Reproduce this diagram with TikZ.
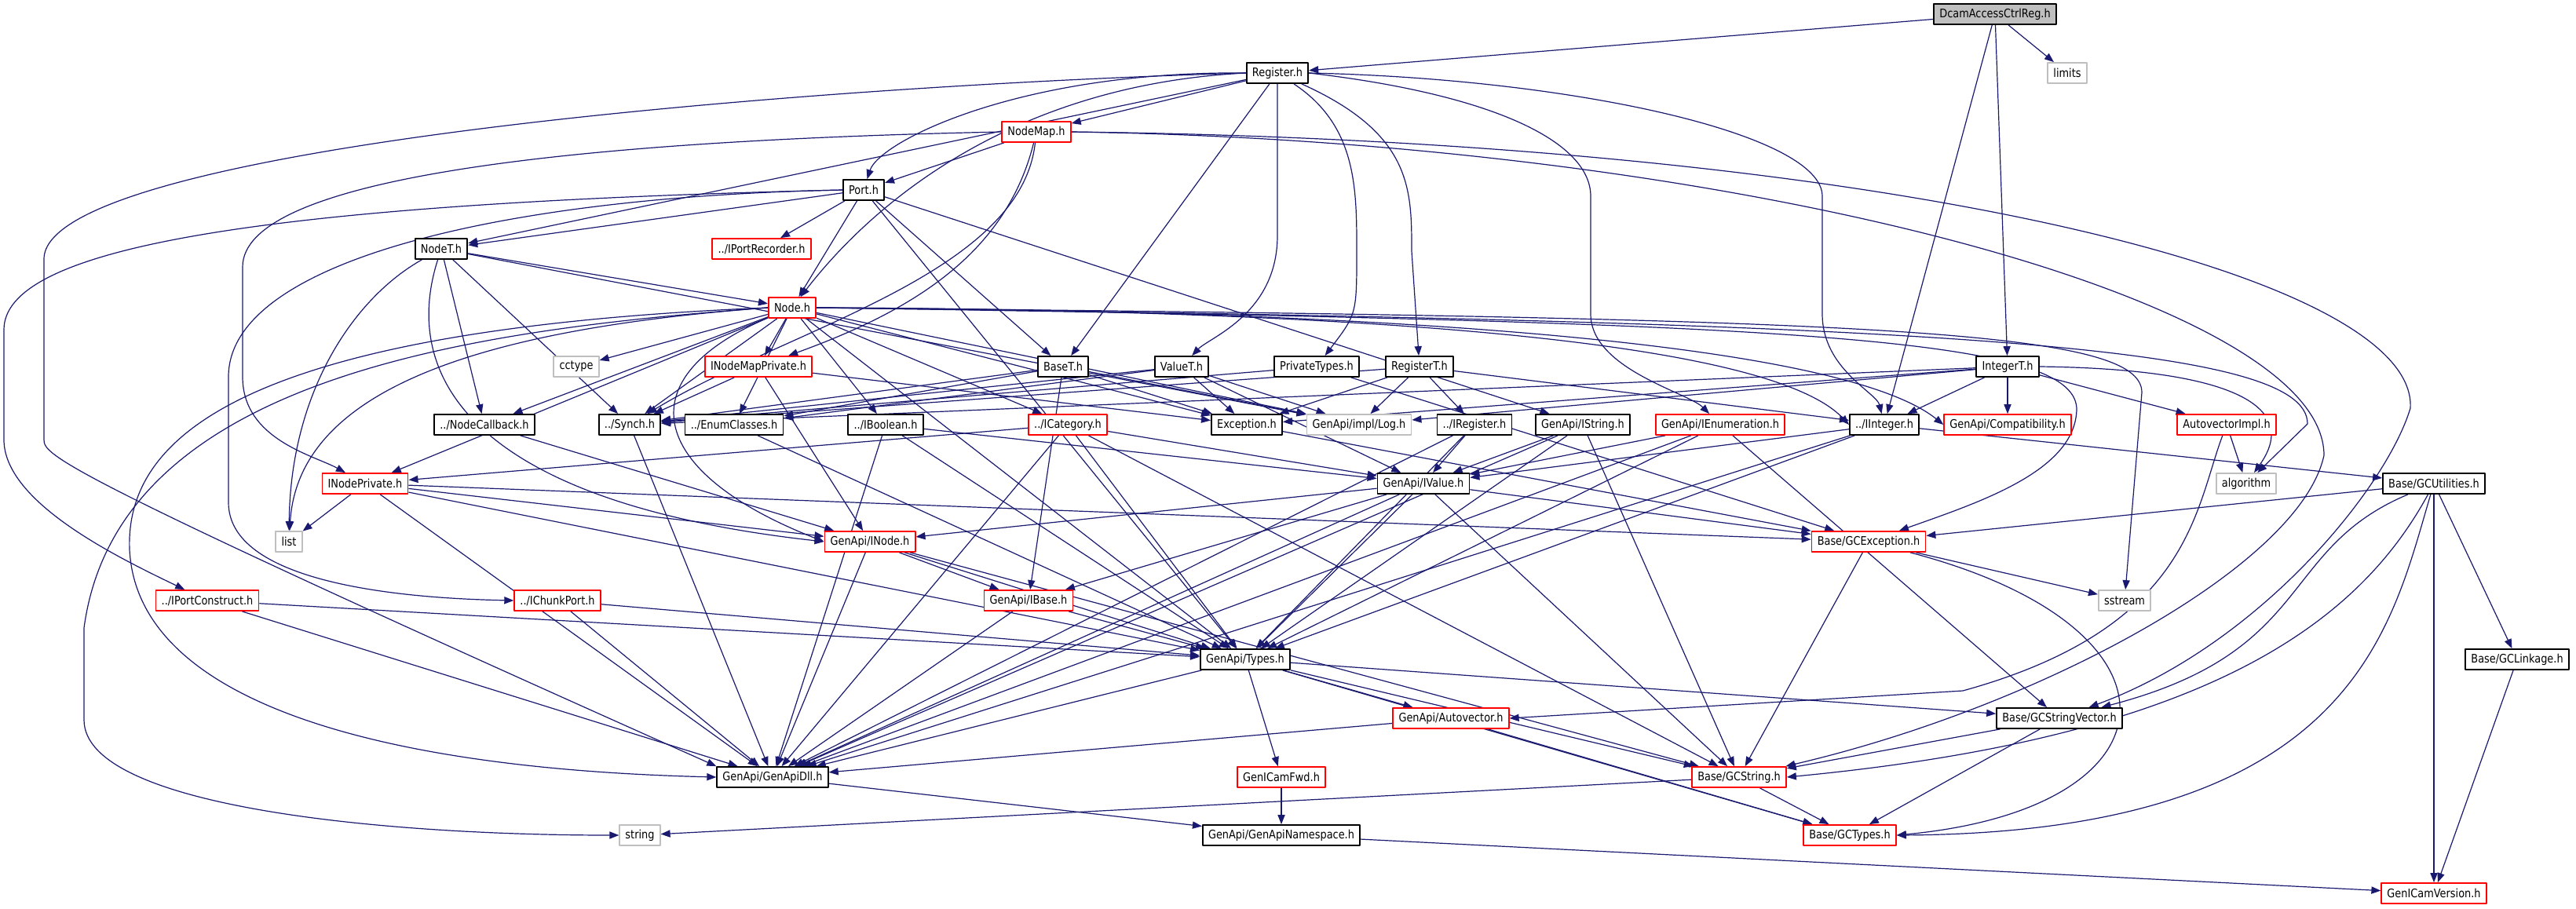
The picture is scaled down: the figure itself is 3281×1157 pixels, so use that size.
\documentclass[tikz,border=0pt]{standalone}
\usepackage{fontspec}
\setmainfont{DejaVu Sans}[FakeStretch=0.86]
\usetikzlibrary{arrows.meta}
\definecolor{edgeblue}{HTML}{191970}
\definecolor{sysgray}{HTML}{BFBFBF}
\pgfdeclarelayer{bg}
\pgfsetlayers{bg,main}

\begin{document}
\begin{tikzpicture}[line cap=round,line join=round,x=0.5pt,y=-0.5pt,
	file/.style={draw=black,fill=white,line width=0.9pt,minimum height=13pt,inner xsep=3.6pt,inner ysep=0pt,font=\fontsize{7.5}{8}\selectfont},
	trunc/.style={file,draw=red},
	sys/.style={file,draw=sysgray},
	root/.style={file,fill=sysgray},
	dep/.style={draw=edgeblue,line width=0.6pt,-{Triangle[length=6pt,width=4.6pt]}}]
		\useasboundingbox (0,0) rectangle (3281,1157);
		\node[root]  (dcam)    at (2541,18)   {DcamAccessCtrlReg.h};
		\node[file]  (reg)     at (1627,93)   {Register.h};
		\node[sys]   (limits)  at (2633,93)   {limits};
		\node[trunc] (nmap)    at (1320,168)  {NodeMap.h};
		\node[file]  (port)    at (1100,242)  {Port.h};
		\node[file]  (nodet)   at (562,317)   {NodeT.h};
		\node[trunc] (iprec)   at (970,317)   {../IPortRecorder.h};
		\node[trunc] (node)    at (1009,392)  {Node.h};
		\node[sys]   (cctype)  at (734,467)   {cctype};
		\node[trunc] (inmp)    at (966,467)   {INodeMapPrivate.h};
		\node[file]  (baset)   at (1354,467)  {BaseT.h};
		\node[file]  (valuet)  at (1505,467)  {ValueT.h};
		\node[file]  (ptypes)  at (1677,467)  {PrivateTypes.h};
		\node[file]  (regt)    at (1808,467)  {RegisterT.h};
		\node[file]  (intt)    at (2557,467)  {IntegerT.h};
		\node[file]  (ncb)     at (617,541)   {../NodeCallback.h};
		\node[file]  (synch)   at (802,541)   {../Synch.h};
		\node[file]  (enumc)   at (935,541)   {../EnumClasses.h};
		\node[file]  (ibool)   at (1128,541)  {../IBoolean.h};
		\node[trunc] (icat)    at (1360,541)  {../ICategory.h};
		\node[file]  (excp)    at (1588,541)  {Exception.h};
		\node[sys]   (log)     at (1731,541)  {GenApi/impl/Log.h};
		\node[file]  (ireg)    at (1878,541)  {../IRegister.h};
		\node[file]  (istr)    at (2016,541)  {GenApi/IString.h};
		\node[trunc] (ienum)   at (2191,541)  {GenApi/IEnumeration.h};
		\node[file]  (iint)    at (2400,541)  {../IInteger.h};
		\node[trunc] (compat)  at (2557,541)  {GenApi/Compatibility.h};
		\node[trunc] (avimpl)  at (2836,541)  {AutovectorImpl.h};
		\node[trunc] (inp)     at (465,616)   {INodePrivate.h};
		\node[file]  (ivalue)  at (1813,616)  {GenApi/IValue.h};
		\node[sys]   (algo)    at (2861,616)  {algorithm};
		\node[file]  (gcu)     at (3100,616)  {Base/GCUtilities.h};
		\node[sys]   (list)    at (368,690)   {list};
		\node[trunc] (inode)   at (1108,690)  {GenApi/INode.h};
		\node[trunc] (gcex)    at (2380,690)  {Base/GCException.h};
		\node[trunc] (ipc)     at (264,765)   {../IPortConstruct.h};
		\node[trunc] (icp)     at (710,765)   {../IChunkPort.h};
		\node[trunc] (ibase)   at (1310,765)  {GenApi/IBase.h};
		\node[sys]   (sstream) at (2706,765)  {sstream};
		\node[file]  (types)   at (1586,840)  {GenApi/Types.h};
		\node[file]  (gclink)  at (3206,840)  {Base/GCLinkage.h};
		\node[trunc] (avec)    at (1848,915)  {GenApi/Autovector.h};
		\node[file]  (gcsv)    at (2623,915)  {Base/GCStringVector.h};
		\node[file]  (dll)     at (984,990)   {GenApi/GenApiDll.h};
		\node[trunc] (fwd)     at (1632,990)  {GenICamFwd.h};
		\node[trunc] (gcstr)   at (2215,990)  {Base/GCString.h};
		\node[sys]   (string)  at (815,1064)  {string};
		\node[file]  (nspace)  at (1632,1064) {GenApi/GenApiNamespace.h};
		\node[trunc] (gctypes) at (2356,1064) {Base/GCTypes.h};
		\node[trunc] (gcver)   at (3100,1138) {GenICamVersion.h};
		\begin{pgfonlayer}{bg}
			\foreach \a/\b in {dcam/reg,dcam/limits,dcam/iint,dcam/intt,
				reg/nmap,reg/nodet,reg/baset,nmap/port,
				port/nodet,port/iprec,port/node,port/baset,port/types,port/istr,
				nodet/node,nodet/ncb,nodet/synch,nodet/log,
				node/cctype,node/inmp,node/ncb,node/synch,node/enumc,node/ibool,node/icat,node/excp,node/log,node/inp,node/types,
				inmp/synch,inmp/inode,inmp/excp,ncb/inode,synch/dll,enumc/types,
				ibool/ivalue,ibool/types,ibool/dll,
				icat/ivalue,icat/types,icat/dll,icat/gcstr,icat/inp,
				baset/excp,baset/log,baset/ibase,baset/synch,baset/enumc,
				valuet/excp,valuet/log,valuet/ivalue,valuet/synch,valuet/enumc,
				ptypes/synch,ptypes/gcex,
				regt/excp,regt/log,regt/ireg,regt/synch,regt/iint,
				excp/gcex,ireg/ivalue,ireg/types,ireg/dll,
				istr/ivalue,istr/types,istr/dll,istr/gcstr,
				ienum/ivalue,ienum/types,ienum/dll,ienum/gcsv,
				iint/ivalue,iint/types,iint/dll,iint/gcu,
				intt/iint,intt/compat,intt/avimpl,intt/log,intt/excp,intt/synch,
				avimpl/algo,
				inp/list,inp/inode,inp/types,inp/dll,inp/gcex,
				ivalue/inode,ivalue/ibase,ivalue/types,ivalue/dll,ivalue/gcstr,ivalue/gcex,
				inode/ibase,inode/types,inode/dll,inode/gcstr,
				ibase/types,ibase/dll,ipc/types,ipc/dll,icp/types,icp/dll,
				types/dll,types/fwd,types/avec,types/gcstr,types/gctypes,types/gcsv,
				avec/dll,avec/gctypes,
				gcu/gcex,gcu/gcver,gcu/gclink,
				gcex/sstream,gcex/gcstr,
				gcsv/gcstr,gcsv/gctypes,gcstr/string,gcstr/gctypes,
				fwd/nspace,dll/nspace,nspace/gcver,gclink/gcver}
				\draw[dep] (\a) -- (\b);
			\draw[dep] (reg.west) .. controls (1000,110) and (56,190) .. (56,330) -- (56,560) .. controls (56,580) and (70,600) .. (dll.north west);
			\draw[dep] (nmap.west) .. controls (700,180) and (309,230) .. (309,340) -- (309,480) .. controls (309,560) and (400,580) .. (inp);
			\draw[dep] (port.west) .. controls (300,260) and (5,320) .. (5,420) -- (5,560) .. controls (5,640) and (150,710) .. (ipc);
			\draw[dep] (port.west) .. controls (650,250) and (291,330) .. (291,480) -- (291,640) .. controls (291,740) and (500,762) .. (icp.west);
			\draw[dep] (node.west) .. controls (600,420) and (150,480) .. (107,800) -- (107,917) .. controls (107,1030) and (500,1064) .. (string.west);
			\draw[dep] (node.west) .. controls (300,420) and (160,560) .. (165,700) .. controls (175,900) and (500,980) .. (dll.west);
			\draw[dep] (node.west) .. controls (600,420) and (380,500) .. (list);
			\draw[dep] (node) .. controls (800,480) and (820,600) .. (inode.west);
			\draw[dep] (nodet) .. controls (450,380) and (370,500) .. (list);
			\draw[dep] (nodet) .. controls (510,480) and (600,640) .. (inode.west);
			\draw[dep] (reg.east) .. controls (2000,100) and (2321,170) .. (2321,250) -- (2321,400) .. controls (2321,470) and (2390,500) .. (iint);
			\draw[dep] (reg.east) .. controls (1900,120) and (2026,180) .. (2026,250) -- (2026,400) .. controls (2026,470) and (2150,500) .. (ienum);
			\draw[dep] (reg) .. controls (1728,160) and (1728,240) .. (1728,320) .. controls (1728,400) .. (ptypes);
			\draw[dep] (reg) .. controls (1798,170) and (1798,240) .. (1798,320) -- (regt);
			\draw[dep] (reg) -- (1627,300) .. controls (1627,400) and (1540,430) .. (valuet);
			\draw[dep] (reg.west) .. controls (1250,110) and (1080,300) .. (node);
			\draw[dep] (reg.west) .. controls (1300,90) and (1120,180) .. (port);
			\draw[dep] (nmap) .. controls (1280,330) and (1150,400) .. (inmp);
			\draw[dep] (nmap) .. controls (1300,350) and (1000,420) .. (synch);
			\draw[dep] (nmap.east) .. controls (2200,180) and (2960,380) .. (2960,580) .. controls (2930,720) and (2600,900) .. (gcstr);
			\draw[dep] (nmap.east) .. controls (2400,180) and (3080,350) .. (3070,520) .. controls (3040,620) and (2880,820) .. (gcsv);
			\draw[dep] (node.east) .. controls (1700,395) and (2250,430) .. (iint.west);
			\draw[dep] (node.east) .. controls (1800,395) and (2350,440) .. (compat.west);
			\draw[dep] (node.east) .. controls (2300,410) and (2640,430) .. (2645,520) .. controls (2645,600) and (2520,640) .. (gcex);
			\draw[dep] (node.east) .. controls (2400,405) and (2728,420) .. (2728,500) -- (sstream);
			\draw[dep] (node.east) .. controls (2500,410) and (2939,440) .. (2939,540) -- (algo);
			\draw[dep] (intt.east) .. controls (2850,470) and (2930,520) .. (algo);
			\draw[dep] (avimpl) .. controls (2795,650) and (2790,800) .. (2500,880) -- (avec.east);
			\draw[dep] (gcu) .. controls (3045,800) and (3000,1060) .. (gctypes.east);
			\draw[dep] (gcu) .. controls (3000,800) and (2800,940) .. (gcstr.east);
			\draw[dep] (gcu) .. controls (2900,700) and (2950,830) .. (gcsv);
			\draw[dep] (gcex) .. controls (2800,800) and (2780,1030) .. (gctypes.east);
		\end{pgfonlayer}
	\end{tikzpicture}
\end{document}
